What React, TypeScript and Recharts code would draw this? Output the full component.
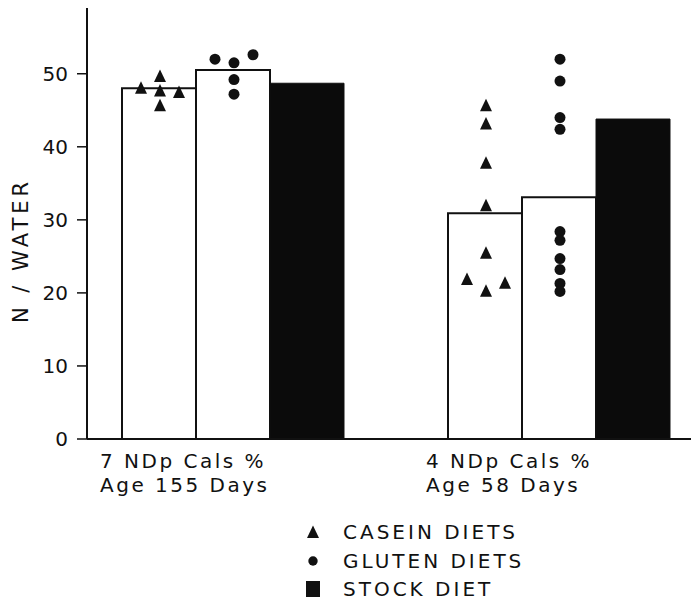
import { ComposedChart, Bar, Scatter, XAxis, YAxis, Legend } from 'recharts';

const groupDose = ['7 NDp Cals %', '4 NDp Cals %'];
const groupAge = ['Age 155 Days', 'Age 58 Days'];

const caseinMean = [48.0, 30.9];
const glutenMean = [50.5, 33.1];
const stockMean = [48.7, 43.8];

const caseinPoints = [
  [48.1, 49.7, 47.7, 45.7, 47.5],
  [45.7, 43.2, 37.8, 32.0, 25.5, 21.9, 20.3, 21.4],
];
const glutenPoints = [
  [52.0, 51.5, 52.6, 49.2, 47.2],
  [52.0, 49.0, 44.0, 42.4, 28.4, 27.2, 24.7, 23.2, 21.3, 20.2],
];

// which side-by-side column each point sits in (-1 left, 0 middle, 1 right)
const caseinCols = [
  [-1, 0, 0, 0, 1],
  [0, 0, 0, 0, 0, -1, 0, 1],
];
const glutenCols = [
  [-1, 0, 1, 0, 0],
  [0, 0, 0, 0, 0, 0, 0, 0, 0, 0],
];

const yTicks = [0, 10, 20, 30, 40, 50];
const legendItems = ['CASEIN DIETS', 'GLUTEN DIETS', 'STOCK DIET'];

const INK = '#111';
const FONT = '"DejaVu Sans", sans-serif';
const BAR = 74;
const COL = 19;

const data = groupDose.map((dose, g) => {
  const row: Record<string, number | string> = {
    dose,
    casein: caseinMean[g],
    gluten: glutenMean[g],
    stock: stockMean[g],
  };
  caseinPoints[g].forEach((v, i) => (row[`c${i}`] = v));
  glutenPoints[g].forEach((v, i) => (row[`g${i}`] = v));
  return row;
});

const nCasein = Math.max(...caseinPoints.map((p) => p.length));
const nGluten = Math.max(...glutenPoints.map((p) => p.length));

function Triangle({ cx, cy, s = 6 }: { cx: number; cy: number; s?: number }) {
  return <polygon points={`${cx},${cy - s - 0.5} ${cx - s},${cy + s} ${cx + s},${cy + s}`} fill={INK} />;
}

const pointShape = (kind: 'c' | 'g', i: number) => (p: any) => {
  const g = groupDose.indexOf(p.payload?.dose);
  const v = p.payload?.[`${kind}${i}`];
  if (g < 0 || v == null || !Number.isFinite(p.cy)) return <g />;
  if (kind === 'c') {
    return <Triangle cx={p.cx - BAR + caseinCols[g][i] * COL + 1} cy={p.cy} />;
  }
  return <circle cx={p.cx + glutenCols[g][i] * COL + 1} cy={p.cy} r={5.5} fill={INK} />;
};

const GroupTick = ({ x, y, index }: any) => (
  <g fontFamily={FONT} fontSize={20} letterSpacing={2.5} fill={INK}>
    <text x={x - 133} y={y + 28.5}>{groupDose[index]}</text>
    <text x={x - 133} y={y + 53}>{groupAge[index]}</text>
  </g>
);

const YTitle = ({ viewBox }: any) => {
  const cx = viewBox.x + 28;
  const cy = viewBox.y + viewBox.height / 2 + 27;
  return (
    <text
      x={cx}
      y={cy}
      transform={`rotate(-90 ${cx} ${cy})`}
      textAnchor="middle"
      fontFamily={FONT}
      fontSize={21}
      letterSpacing={4}
      fill={INK}
    >
      N / WATER
    </text>
  );
};

const LegendBox = () => (
  <div style={{ fontFamily: FONT, fontSize: 20, letterSpacing: 3, color: INK }}>
    {legendItems.map((label, i) => (
      <div key={label} style={{ display: 'flex', alignItems: 'center', height: 28.5 }}>
        <svg width={20} height={20} style={{ marginRight: 20 }}>
          {i === 0 && <Triangle cx={10} cy={10} />}
          {i === 1 && <circle cx={10} cy={10} r={4.7} fill={INK} />}
          {i === 2 && <rect x={3} y={2} width={14} height={16} fill={INK} />}
        </svg>
        <span style={{ lineHeight: 1 }}>{label}</span>
      </div>
    ))}
  </div>
);

export default function App() {
  return (
    <div style={{ position: 'absolute', left: 0, top: 0, background: '#fff' }}>
      <ComposedChart
        width={691}
        height={600}
        data={data}
        barGap={0}
        margin={{ top: 8, right: 0, bottom: 101, left: 0 }}
      >
        <XAxis
          dataKey="dose"
          padding={{ left: -17, right: -31 }}
          axisLine={{ stroke: INK, strokeWidth: 2 }}
          tickLine={false}
          tickSize={0}
          tickMargin={0}
          height={60}
          interval={0}
          tick={<GroupTick />}
        />
        <YAxis
          domain={[0, 59]}
          ticks={yTicks}
          allowDataOverflow
          width={87}
          tickSize={10}
          tickMargin={9}
          axisLine={{ stroke: INK, strokeWidth: 2 }}
          tickLine={{ stroke: INK, strokeWidth: 1.5 }}
          tick={{ fill: INK, fontSize: 20, fontFamily: FONT }}
          label={<YTitle />}
        />
        <Bar dataKey="casein" barSize={BAR} fill="#fff" stroke={INK} strokeWidth={2} isAnimationActive={false} />
        <Bar dataKey="gluten" barSize={BAR} fill="#fff" stroke={INK} strokeWidth={2} isAnimationActive={false} />
        <Bar dataKey="stock" barSize={BAR} fill="#0b0b0b" stroke={INK} strokeWidth={1} isAnimationActive={false} />
        {Array.from({ length: nCasein }, (_, i) => (
          <Scatter
            key={`c${i}`}
            dataKey={`c${i}`}
            legendType="none"
            shape={pointShape('c', i)}
            isAnimationActive={false}
          />
        ))}
        {Array.from({ length: nGluten }, (_, i) => (
          <Scatter
            key={`g${i}`}
            dataKey={`g${i}`}
            legendType="none"
            shape={pointShape('g', i)}
            isAnimationActive={false}
          />
        ))}
        <Legend
          layout="vertical"
          align="center"
          verticalAlign="middle"
          content={<LegendBox />}
          wrapperStyle={{ left: 303, top: 518, width: 300 }}
        />
      </ComposedChart>
    </div>
  );
}
